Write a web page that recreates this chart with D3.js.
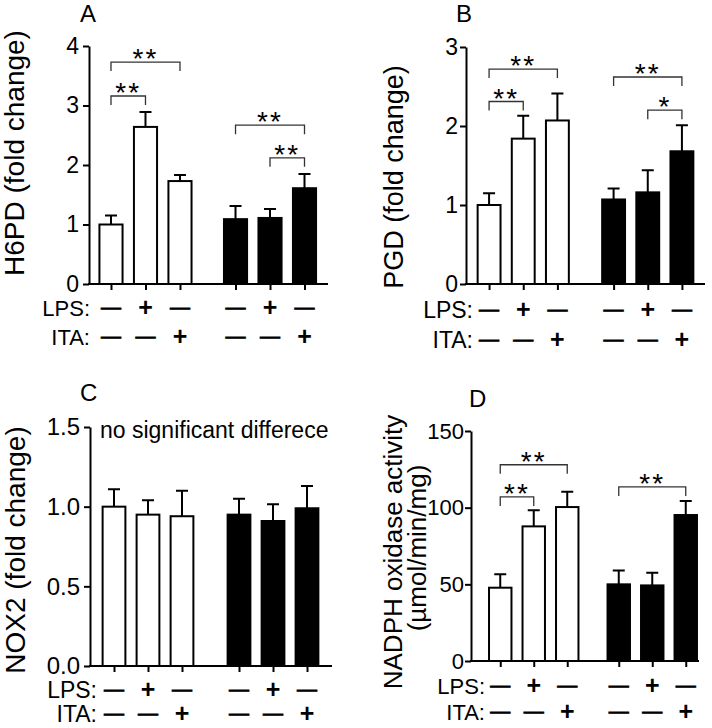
<!DOCTYPE html>
<html>
<head>
<meta charset="utf-8">
<script src="https://cdn.jsdelivr.net/npm/d3@7"></script>
<style>
  body { margin: 0; background: #fff; }
  svg { display: block; }
  text { font-family: "Liberation Sans", Arial, sans-serif; fill: #000; }
</style>
</head>
<body>
<svg width="712" height="728"></svg>
<script>
// six bars per panel: white = WT group, black = second group
const treatments = ["Ctrl", "LPS", "ITA"];
const genotypes = ["WT", "KO"];
const categories = genotypes.flatMap((g) => treatments.map((t) => g + " " + t));
const lpsSigns = ["—", "+", "—", "—", "+", "—"];
const itaSigns = ["—", "—", "+", "—", "—", "+"];

// A: H6PD
const h6pdMean = [1.0, 2.64, 1.73, 1.09, 1.11, 1.61];
const h6pdSem = [0.15, 0.25, 0.1, 0.22, 0.15, 0.24];
const h6pdTicks = [0, 1, 2, 3, 4];
const h6pdSig = [
  { a: 0, b: 1, level: 3.16, label: "**" },
  { a: 0, b: 2, level: 3.73, label: "**" },
  { a: 3, b: 5, level: 2.67, label: "**" },
  { a: 4, b: 5, level: 2.12, label: "**" },
];

// B: PGD
const pgdMean = [1.0, 1.84, 2.07, 1.07, 1.16, 1.68];
const pgdSem = [0.15, 0.29, 0.34, 0.14, 0.28, 0.33];
const pgdTicks = [0, 1, 2, 3];
const pgdSig = [
  { a: 0, b: 1, level: 2.31, label: "**" },
  { a: 0, b: 2, level: 2.72, label: "**" },
  { a: 3, b: 5, level: 2.62, label: "**" },
  { a: 4, b: 5, level: 2.2, label: "*" },
];

// C: NOX2
const nox2Mean = [1.0, 0.95, 0.94, 0.95, 0.91, 0.99];
const nox2Sem = [0.11, 0.09, 0.16, 0.1, 0.105, 0.14];
const nox2Ticks = [0, 0.5, 1.0, 1.5];
const nox2Sig = [];

// D: NADPH oxidase activity
const nadphMean = [47.8, 87.8, 100.4, 50, 49.3, 95.2];
const nadphSem = [8.7, 10.5, 10, 9.1, 8.3, 9.1];
const nadphTicks = [0, 50, 100, 150];
const nadphSig = [
  { a: 0, b: 1, level: 107, label: "**" },
  { a: 0, b: 2, level: 128, label: "**" },
  { a: 3, b: 5, level: 113.5, label: "**" },
];

const svg = d3.select("svg");
const fill = d3.scaleOrdinal().domain(genotypes).range(["#fff", "#000"]);

const panels = [
  {
    letter: "A", letterX: 80, letterY: 22,
    mean: h6pdMean, sem: h6pdSem, ticks: h6pdTicks, sig: h6pdSig, fmt: d3.format("d"),
    max: 4, axisX: 89, y0: 284, yTop: 46, xEnd: 328,
    groupRange: [93.75, 321.75], groupPad: 0.169, tickFont: 23, tickPad: 4,
    title: ["H6PD (fold change)"], titleX: [24], titleY: [153], titleFont: 28,
    lpsY: 308, itaY: 337, labelRight: 90, labelFont: 22,
  },
  {
    letter: "B", letterX: 456, letterY: 22,
    mean: pgdMean, sem: pgdSem, ticks: pgdTicks, sig: pgdSig, fmt: d3.format("d"),
    max: 3, axisX: 466, y0: 284, yTop: 47, xEnd: 705,
    groupRange: [472, 699], groupPad: 0.177, tickFont: 23, tickPad: 2,
    title: ["PGD (fold change)"], titleX: [403], titleY: [177], titleFont: 27,
    lpsY: 310, itaY: 340, labelRight: 473, labelFont: 23,
  },
  {
    letter: "C", letterX: 80, letterY: 401,
    mean: nox2Mean, sem: nox2Sem, ticks: nox2Ticks, sig: nox2Sig, fmt: d3.format(".1f"),
    max: 1.5, axisX: 90, y0: 666, yTop: 427, xEnd: 332,
    groupRange: [97, 324], groupPad: 0.184, tickFont: 24, tickPad: 4,
    title: ["NOX2 (fold change)"], titleX: [25], titleY: [550], titleFont: 28,
    lpsY: 690, itaY: 714, labelRight: 97, labelFont: 23,
    note: "no significant differece",
  },
  {
    letter: "D", letterX: 469, letterY: 407,
    mean: nadphMean, sem: nadphSem, ticks: nadphTicks, sig: nadphSig, fmt: d3.format("d"),
    max: 150, axisX: 471, y0: 661, yTop: 431, xEnd: 699,
    groupRange: [483.5, 702.5], groupPad: 0.152, tickFont: 22, tickPad: 1,
    title: ["NADPH oxidase activity", "(µmol/min/mg)"], titleX: [402, 426], titleY: [552, 548], titleFont: 26,
    lpsY: 686, itaY: 712, labelRight: 485, labelFont: 22,
  },
];

function drawPanel(p) {
  const g = svg.append("g");

  const y = d3.scaleLinear().domain([0, p.max]).range([p.y0, p.yTop]);
  const outer = d3.scaleBand().domain(genotypes).range(p.groupRange).paddingInner(p.groupPad);
  const inner = d3.scaleBand().domain(treatments).range([0, outer.bandwidth()])
    .paddingInner(0.33).paddingOuter(0.165);
  const bw = inner.bandwidth();

  const rows = categories.map((c, i) => ({
    cat: c,
    genotype: genotypes[Math.floor(i / 3)],
    treatment: treatments[i % 3],
    mean: p.mean[i],
    sem: p.sem[i],
    lps: lpsSigns[i],
    ita: itaSigns[i],
  }));
  const x = d3.scaleOrdinal()
    .domain(categories)
    .range(rows.map((d) => outer(d.genotype) + inner(d.treatment) + bw / 2));

  // error bars (upper only)
  g.selectAll(".err")
    .data(rows)
    .join("path")
    .attr("fill", "none")
    .attr("stroke", "#000")
    .attr("stroke-width", 2)
    .attr("d", (d) => {
      const cx = x(d.cat), top = y(d.mean + d.sem);
      return `M${cx},${y(d.mean)}V${top}M${cx - 6},${top}H${cx + 6}`;
    });

  g.selectAll("rect")
    .data(rows)
    .join("rect")
    .attr("x", (d) => x(d.cat) - bw / 2)
    .attr("y", (d) => y(d.mean))
    .attr("width", bw)
    .attr("height", (d) => y(0) - y(d.mean))
    .attr("fill", (d) => fill(d.genotype))
    .attr("stroke", "#000")
    .attr("stroke-width", 2);

  // y axis
  const yAxis = g.append("g")
    .attr("transform", `translate(${p.axisX},0)`)
    .call(d3.axisLeft(y).tickValues(p.ticks).tickFormat(p.fmt).tickSize(6).tickSizeOuter(0).tickPadding(p.tickPad));
  yAxis.selectAll("path, line").attr("stroke", "#000").attr("stroke-width", 2);
  yAxis.selectAll("text").attr("font-size", p.tickFont).attr("font-family", null).attr("fill", "#000");

  // x axis: ticks at bar centres, baseline drawn across
  const xAxis = g.append("g")
    .attr("transform", `translate(0,${p.y0})`)
    .call(d3.axisBottom(x).tickSize(6).tickFormat(""));
  xAxis.select(".domain").remove();
  xAxis.selectAll("line").attr("stroke", "#000").attr("stroke-width", 2);
  g.append("line")
    .attr("x1", p.axisX - 1).attr("x2", p.xEnd)
    .attr("y1", p.y0).attr("y2", p.y0)
    .attr("stroke", "#000").attr("stroke-width", 2);

  // treatment rows
  [["LPS:", "lps", p.lpsY], ["ITA:", "ita", p.itaY]].forEach(([label, key, yc]) => {
    g.append("text")
      .attr("x", p.labelRight)
      .attr("y", yc + 0.358 * p.labelFont)
      .attr("text-anchor", "end")
      .attr("font-size", p.labelFont)
      .text(label);
    g.selectAll(".sign-" + key)
      .data(rows)
      .join("text")
      .attr("x", (d) => x(d.cat))
      .attr("y", (d) => d[key] === "+" ? yc + 8 : yc + 5.5)
      .attr("text-anchor", "middle")
      .attr("font-size", (d) => d[key] === "+" ? 25 : 20)
      .attr("font-weight", (d) => d[key] === "+" ? "bold" : null)
      .attr("stroke", (d) => d[key] === "+" ? null : "#000")
      .attr("stroke-width", 0.8)
      .text((d) => d[key]);
  });

  // significance brackets
  p.sig.forEach((s) => {
    const xa = x(categories[s.a]), xb = x(categories[s.b]), yl = y(s.level);
    g.append("path")
      .attr("fill", "none")
      .attr("stroke", "#333")
      .attr("stroke-width", 1.3)
      .attr("d", `M${xa},${yl + 9}V${yl}H${xb}V${yl + 9}`);
    g.append("text")
      .attr("x", (xa + xb) / 2)
      .attr("y", yl + 6)
      .attr("text-anchor", "middle")
      .attr("font-size", 28)
      .attr("letter-spacing", 2)
      .text(s.label);
  });

  if (p.note) {
    g.append("text")
      .attr("x", p.axisX + 10)
      .attr("y", p.yTop + 11)
      .attr("font-size", 23)
      .text(p.note);
  }

  // y title
  p.title.forEach((t, i) => {
    g.append("text")
      .attr("transform", `translate(${p.titleX[i]},${p.titleY[i]}) rotate(-90)`)
      .attr("text-anchor", "middle")
      .attr("font-size", p.titleFont)
      .text(t);
  });

  g.append("text")
    .attr("x", p.letterX)
    .attr("y", p.letterY)
    .attr("font-size", 24)
    .text(p.letter);
}

panels.forEach(drawPanel);
</script>
</body>
</html>
